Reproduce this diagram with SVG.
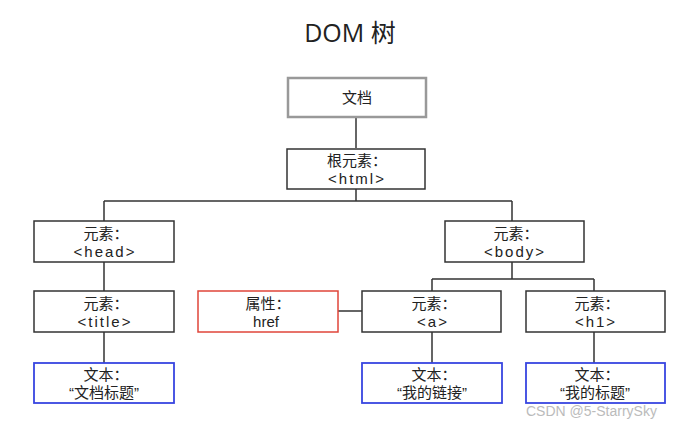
<svg xmlns="http://www.w3.org/2000/svg" width="687" height="425" viewBox="0 0 687 425">
<style>
.box{fill:#fff;stroke:#333;stroke-width:1.5}
.doc{fill:#fff;stroke:#999;stroke-width:2.5}
.attr{fill:#fff;stroke:#e0453a;stroke-width:1.5}
.txt{fill:#fff;stroke:#3845e0;stroke-width:1.8}
.conn{stroke:#333;stroke-width:1.5;fill:none}
text{font-family:"Liberation Sans","Noto Sans CJK SC",sans-serif;font-size:15px;fill:#222;text-anchor:middle}
.sp{letter-spacing:2px}
.title{font-family:"Open Sans","Noto Sans CJK SC",sans-serif;font-size:25px;fill:#222}
.wm{font-size:14px;fill:#bbb;text-anchor:start}
</style>
<rect width="687" height="425" fill="#fff"/>
<text class="title" x="350" y="42">DOM 树</text>
<g id="connectors">
<path class="conn" d="M356 117V148"/>
<path class="conn" d="M356 189V201M104 201H512M104 201V221M512 201V221"/>
<path class="conn" d="M104 262V291M104 332V363"/>
<path class="conn" d="M512 262V279M432 279H594M432 279V291M594 279V291"/>
<path class="conn" d="M338 311H362"/>
<path class="conn" d="M432 332V363M594 332V363"/>
</g>
<g id="doc"><rect class="doc" x="288" y="78" width="138" height="39"/><text x="357" y="103">文档</text></g>
<g id="html"><rect class="box" x="287" y="149" width="138" height="40"/><text x="357" y="166">根元素：</text><text class="sp" x="357" y="184">&lt;html&gt;</text></g>
<g id="head"><rect class="box" x="34" y="221" width="140" height="41"/><text x="106" y="239">元素：</text><text class="sp" x="105" y="257">&lt;head&gt;</text></g>
<g id="body"><rect class="box" x="445" y="221" width="139" height="41"/><text x="516" y="239">元素：</text><text class="sp" x="515" y="257">&lt;body&gt;</text></g>
<g id="title"><rect class="box" x="34" y="291" width="140" height="41"/><text x="106" y="309">元素：</text><text class="sp" x="105" y="327">&lt;title&gt;</text></g>
<g id="href"><rect class="attr" x="198" y="291" width="140" height="41"/><text x="268" y="309">属性：</text><text x="266" y="327">href</text></g>
<g id="a"><rect class="box" x="362" y="291" width="139" height="41"/><text x="434" y="309">元素：</text><text class="sp" x="433" y="327">&lt;a&gt;</text></g>
<g id="h1"><rect class="box" x="526" y="291" width="139" height="41"/><text x="597" y="309">元素：</text><text class="sp" x="596" y="327">&lt;h1&gt;</text></g>
<g id="text1"><rect class="txt" x="34" y="363" width="140" height="40"/><text x="106" y="380">文本：</text><text x="104" y="398">“文档标题”</text></g>
<g id="text2"><rect class="txt" x="362" y="363" width="140" height="40"/><text x="434" y="380">文本：</text><text x="432" y="398">“我的链接”</text></g>
<g id="text3"><rect class="txt" x="526" y="363" width="139" height="40"/><text x="597" y="380">文本：</text><text x="595" y="398">“我的标题”</text></g>
<text class="wm" x="526" y="416">CSDN @5-StarrySky</text>
</svg>
